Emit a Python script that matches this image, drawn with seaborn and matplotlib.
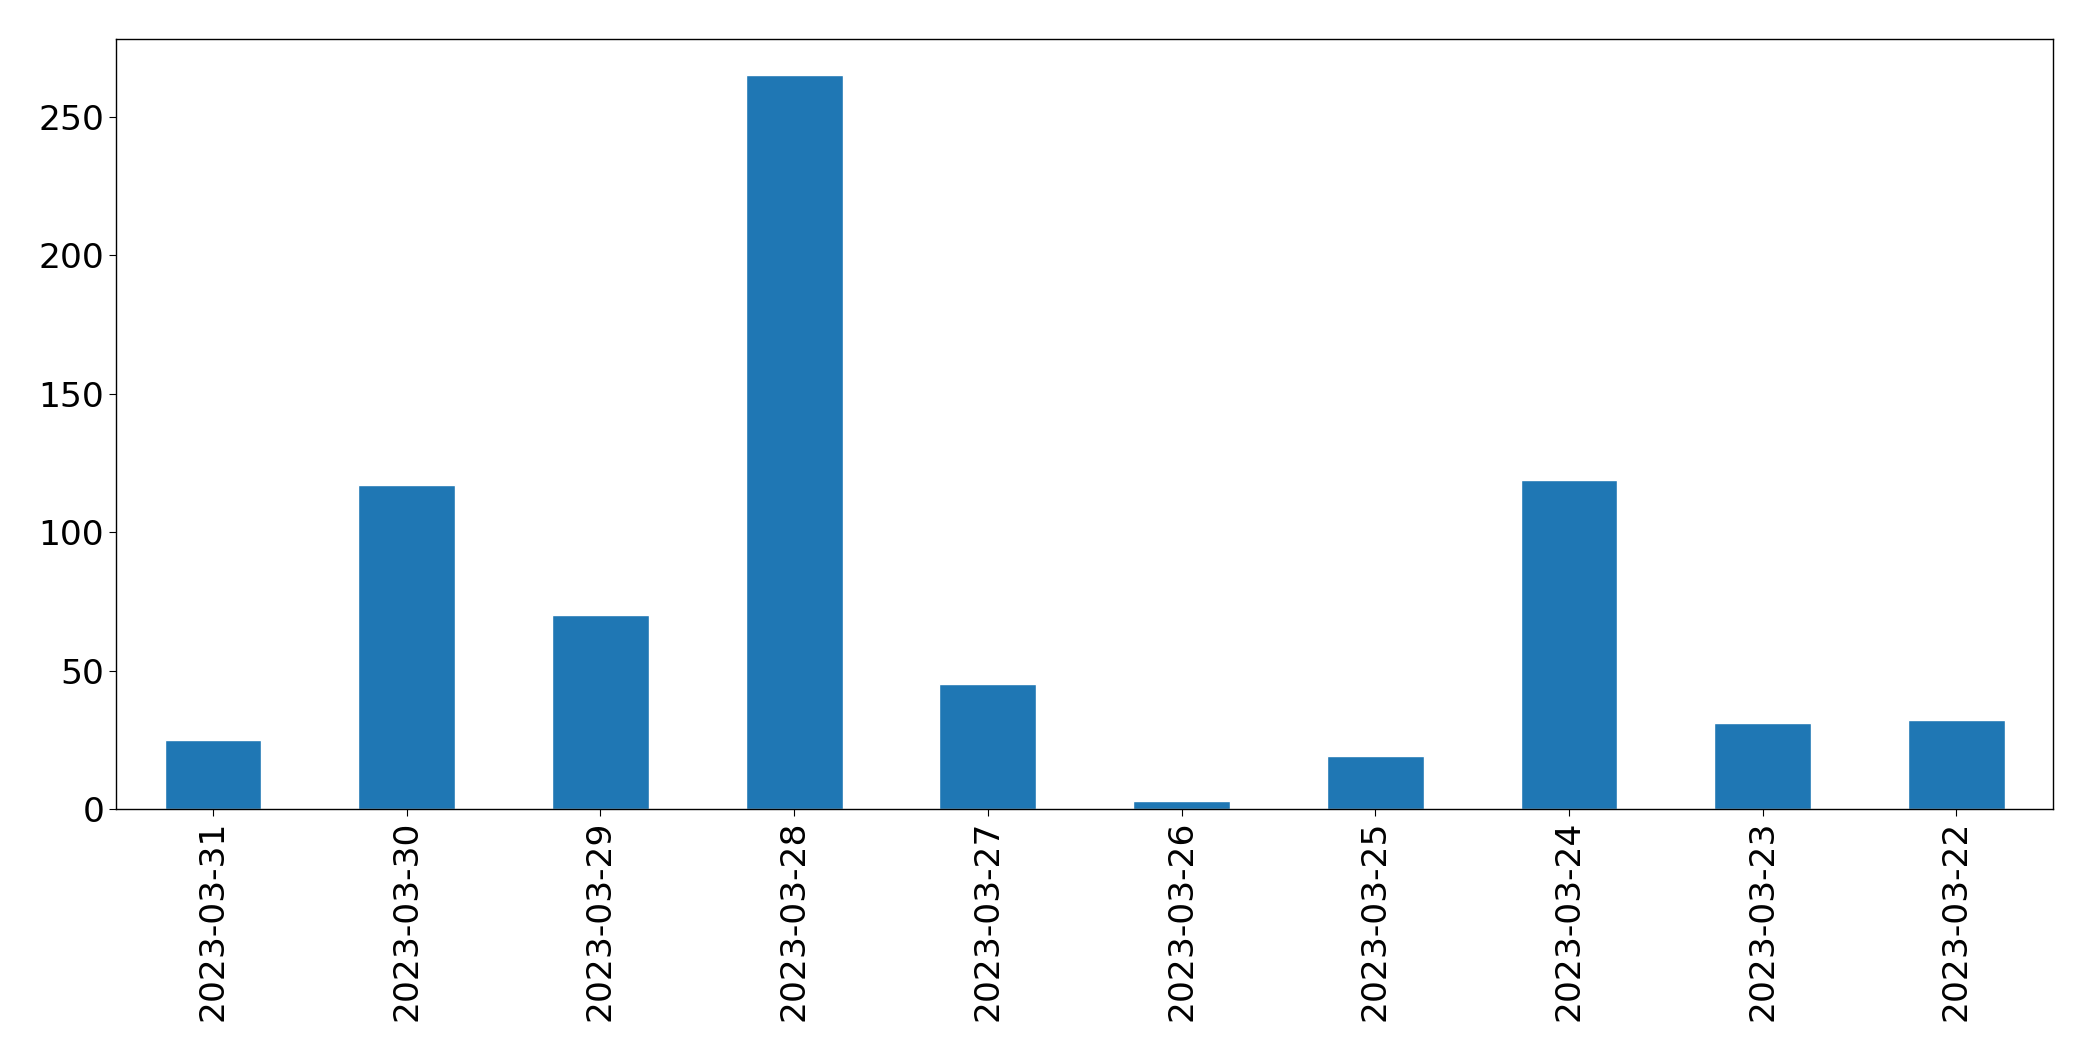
import pandas as pd
import matplotlib
matplotlib.use('Agg')
import matplotlib.pyplot as plt
import seaborn as sns

# Daily counts, newest first (as in the original chart)
dates = ['2023-03-31', '2023-03-30', '2023-03-29', '2023-03-28', '2023-03-27',
         '2023-03-26', '2023-03-25', '2023-03-24', '2023-03-23', '2023-03-22']
counts = [25, 117, 70, 265, 45, 3, 19, 119, 31, 32]

df = pd.DataFrame({'date': dates, 'count': counts})

sns.set_style('ticks')
plt.rcParams['font.family'] = ['DejaVu Sans']

fig, ax = plt.subplots(figsize=(20.93, 10.61), dpi=100)
sns.barplot(x='date', y='count', data=df, order=dates, color='#1f77b4',
            saturation=1, width=0.5, ax=ax)

ax.set_xlim(-0.5, len(dates) - 0.5)
ax.set_ylim(0, 278)
ax.set_xlabel('')
ax.set_ylabel('')
ax.tick_params(axis='both', labelsize=24.8, length=5, colors='black')
ax.tick_params(axis='x', rotation=90)
for side in ['top', 'right', 'left', 'bottom']:
    ax.spines[side].set_visible(True)
    ax.spines[side].set_color('black')
    ax.spines[side].set_linewidth(1)

plt.subplots_adjust(left=0.0555, right=0.981, top=0.963, bottom=0.2375)
plt.savefig('out.png', dpi=100)
